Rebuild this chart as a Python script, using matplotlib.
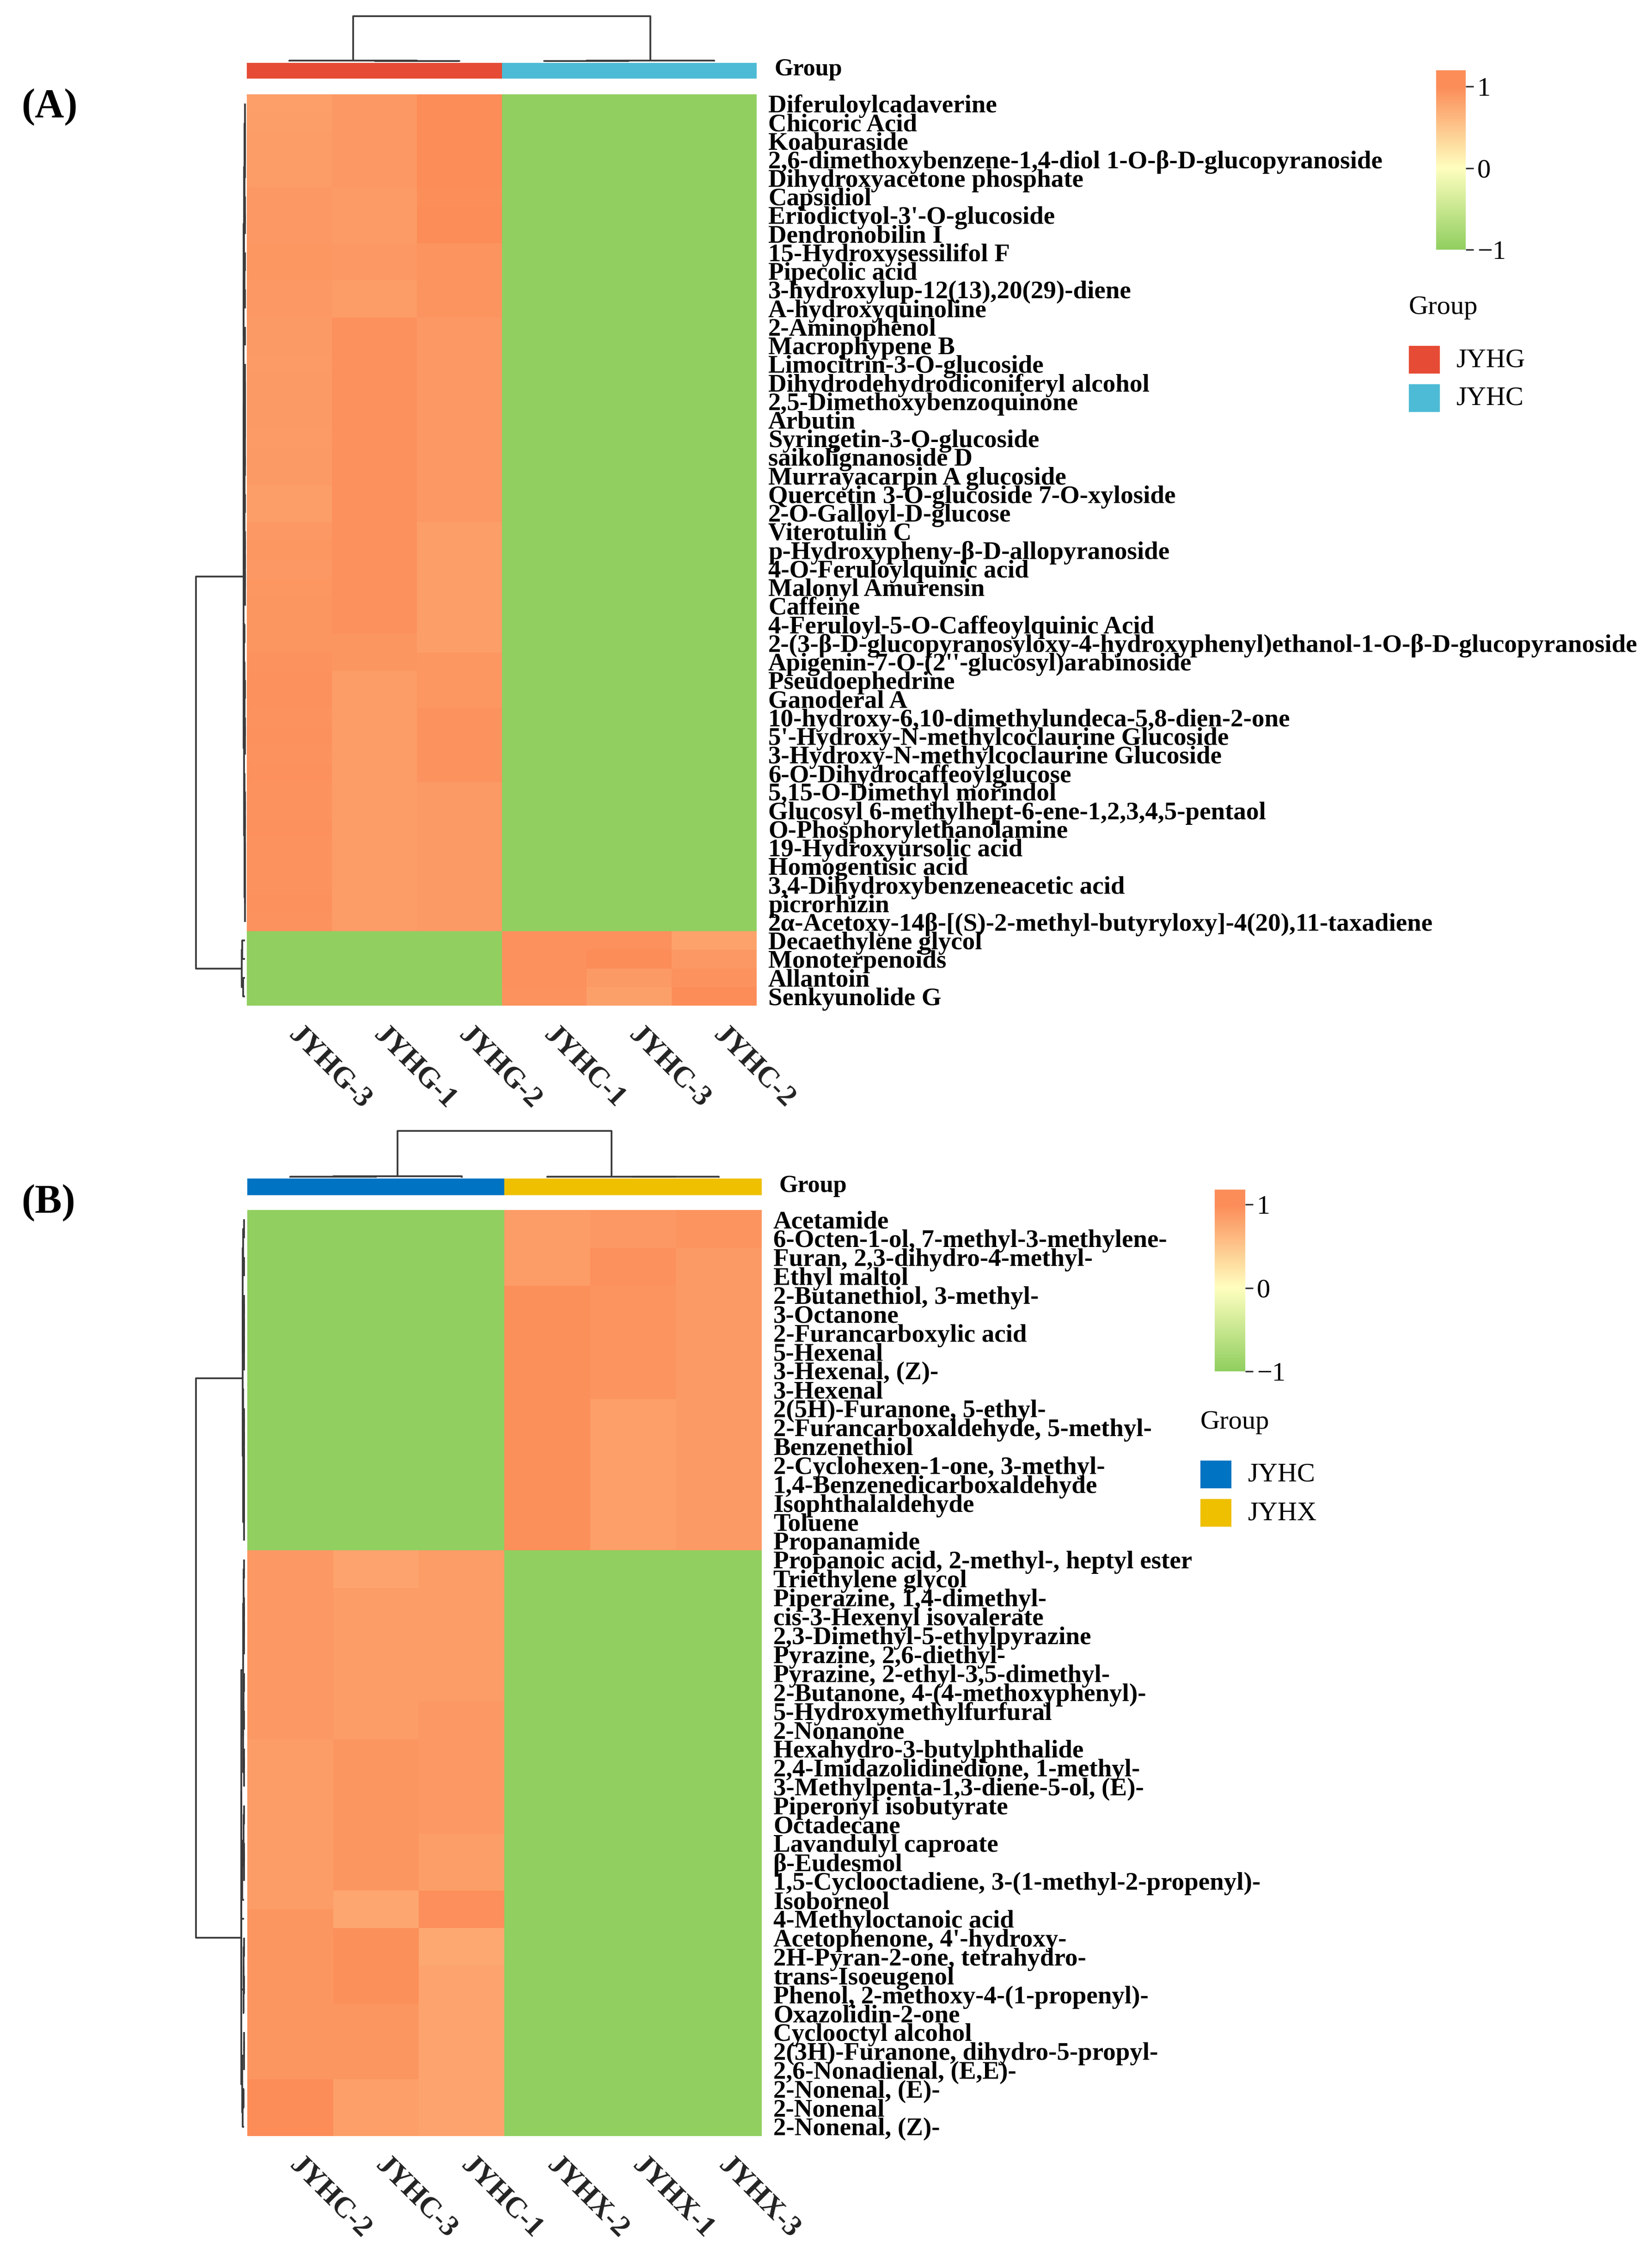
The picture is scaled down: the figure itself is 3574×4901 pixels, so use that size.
import numpy as np
import matplotlib
matplotlib.use("Agg")
import matplotlib.pyplot as plt
from matplotlib.colors import LinearSegmentedColormap, ListedColormap, Normalize
from matplotlib.patches import Rectangle
from matplotlib.transforms import ScaledTranslation

plt.rcParams['font.family'] = ['Liberation Serif', 'DejaVu Serif']

# ---------------- panel A data ----------------
cols_a = ['JYHG-3', 'JYHG-1', 'JYHG-2', 'JYHC-1', 'JYHC-3', 'JYHC-2']
rows_a = [
    'Diferuloylcadaverine', 'Chicoric Acid', 'Koaburaside',
    '2,6-dimethoxybenzene-1,4-diol 1-O-β-D-glucopyranoside',
    'Dihydroxyacetone phosphate', 'Capsidiol', "Eriodictyol-3'-O-glucoside",
    'Dendronobilin I', '15-Hydroxysessilifol F', 'Pipecolic acid',
    '3-hydroxylup-12(13),20(29)-diene', 'A-hydroxyquinoline', '2-Aminophenol',
    'Macrophypene B', 'Limocitrin-3-O-glucoside',
    'Dihydrodehydrodiconiferyl alcohol', '2,5-Dimethoxybenzoquinone', 'Arbutin',
    'Syringetin-3-O-glucoside', 'saikolignanoside D', 'Murrayacarpin A glucoside',
    'Quercetin 3-O-glucoside 7-O-xyloside', '2-O-Galloyl-D-glucose',
    'Viterotulin C', 'p-Hydroxypheny-β-D-allopyranoside',
    '4-O-Feruloylquinic acid', 'Malonyl Amurensin', 'Caffeine',
    '4-Feruloyl-5-O-Caffeoylquinic Acid',
    '2-(3-β-D-glucopyranosyloxy-4-hydroxyphenyl)ethanol-1-O-β-D-glucopyranoside',
    "Apigenin-7-O-(2''-glucosyl)arabinoside", 'Pseudoephedrine', 'Ganoderal A',
    '10-hydroxy-6,10-dimethylundeca-5,8-dien-2-one',
    "5'-Hydroxy-N-methylcoclaurine Glucoside",
    '3-Hydroxy-N-methylcoclaurine Glucoside', '6-O-Dihydrocaffeoylglucose',
    '5,15-O-Dimethyl morindol', 'Glucosyl 6-methylhept-6-ene-1,2,3,4,5-pentaol',
    'O-Phosphorylethanolamine', '19-Hydroxyursolic acid', 'Homogentisic acid',
    '3,4-Dihydroxybenzeneacetic acid', 'picrorhizin',
    '2α-Acetoxy-14β-[(S)-2-methyl-butyryloxy]-4(20),11-taxadiene',
    'Decaethylene glycol', 'Monoterpenoids', 'Allantoin', 'Senkyunolide G',
]
jyhg3_a = [0.84, 0.85, 0.86, 0.86, 0.86, 0.90, 0.90, 0.90, 0.91, 0.91,
           0.90, 0.90, 0.88, 0.88, 0.87, 0.88, 0.88, 0.88, 0.87, 0.88,
           0.88, 0.85, 0.85, 0.90, 0.91, 0.90, 0.91, 0.92, 0.92, 0.92,
           0.95, 0.96, 0.96, 0.95, 0.96, 0.95, 0.96, 0.95, 0.95, 0.96,
           0.95, 0.95, 0.95, 0.96, 0.95, -1.0, -1.0, -1.0, -1.0]
jyhg1_a = [0.90, 0.90, 0.90, 0.90, 0.90, 0.87, 0.87, 0.87, 0.90, 0.90,
           0.86, 0.86, 0.96, 0.96, 0.96, 0.96, 0.96, 0.96, 0.96, 0.96,
           0.96, 0.96, 0.96, 0.96, 0.96, 0.96, 0.96, 0.96, 0.96, 0.92,
           0.92, 0.86, 0.86, 0.86, 0.86, 0.86, 0.86, 0.86, 0.86, 0.86,
           0.86, 0.86, 0.86, 0.86, 0.86, -1.0, -1.0, -1.0, -1.0]
jyhg2_a = [1.00, 1.02, 1.00, 1.01, 1.00, 0.99, 1.00, 1.00, 0.93, 0.93,
           0.93, 0.93, 0.90, 0.90, 0.90, 0.90, 0.90, 0.90, 0.90, 0.90,
           0.90, 0.90, 0.90, 0.85, 0.85, 0.85, 0.85, 0.85, 0.85, 0.85,
           0.91, 0.91, 0.91, 0.94, 0.94, 0.94, 0.94, 0.88, 0.88, 0.88,
           0.88, 0.88, 0.88, 0.88, 0.88, -1.0, -1.0, -1.0, -1.0]
jyhc1_a = [-1.0, -1.0, -1.0, -1.0, -1.0, -1.0, -1.0, -1.0, -1.0, -1.0,
           -1.0, -1.0, -1.0, -1.0, -1.0, -1.0, -1.0, -1.0, -1.0, -1.0,
           -1.0, -1.0, -1.0, -1.0, -1.0, -1.0, -1.0, -1.0, -1.0, -1.0,
           -1.0, -1.0, -1.0, -1.0, -1.0, -1.0, -1.0, -1.0, -1.0, -1.0,
           -1.0, -1.0, -1.0, -1.0, -1.0, 0.96, 0.96, 0.96, 0.95]
jyhc3_a = [-1.0, -1.0, -1.0, -1.0, -1.0, -1.0, -1.0, -1.0, -1.0, -1.0,
           -1.0, -1.0, -1.0, -1.0, -1.0, -1.0, -1.0, -1.0, -1.0, -1.0,
           -1.0, -1.0, -1.0, -1.0, -1.0, -1.0, -1.0, -1.0, -1.0, -1.0,
           -1.0, -1.0, -1.0, -1.0, -1.0, -1.0, -1.0, -1.0, -1.0, -1.0,
           -1.0, -1.0, -1.0, -1.0, -1.0, 0.96, 1.20, 0.88, 0.83]
jyhc2_a = [-1.0, -1.0, -1.0, -1.0, -1.0, -1.0, -1.0, -1.0, -1.0, -1.0,
           -1.0, -1.0, -1.0, -1.0, -1.0, -1.0, -1.0, -1.0, -1.0, -1.0,
           -1.0, -1.0, -1.0, -1.0, -1.0, -1.0, -1.0, -1.0, -1.0, -1.0,
           -1.0, -1.0, -1.0, -1.0, -1.0, -1.0, -1.0, -1.0, -1.0, -1.0,
           -1.0, -1.0, -1.0, -1.0, -1.0, 0.82, 0.90, 0.95, 1.10]
# column tree: (left node, right node, height)
col_tree_a = [(1, 2, 0.06), (3, 4, 0.05), (0, 6, 0.10), (7, 5, 0.09), (8, 9, 4.6)]
# row branch points (first row of the lower branch), upper levels first
row_cuts_a = [45, 28, 14, 36, 47]
group_colors_a = {'JYHG': '#E64B35', 'JYHC': '#4DBBD5'}

# ---------------- panel B data ----------------
cols_b = ['JYHC-2', 'JYHC-3', 'JYHC-1', 'JYHX-2', 'JYHX-1', 'JYHX-3']
rows_b = [
    'Acetamide', '6-Octen-1-ol, 7-methyl-3-methylene-',
    'Furan, 2,3-dihydro-4-methyl-', 'Ethyl maltol', '2-Butanethiol, 3-methyl-',
    '3-Octanone', '2-Furancarboxylic acid', '5-Hexenal', '3-Hexenal, (Z)-',
    '3-Hexenal', '2(5H)-Furanone, 5-ethyl-', '2-Furancarboxaldehyde, 5-methyl-',
    'Benzenethiol', '2-Cyclohexen-1-one, 3-methyl-',
    '1,4-Benzenedicarboxaldehyde', 'Isophthalaldehyde', 'Toluene', 'Propanamide',
    'Propanoic acid, 2-methyl-, heptyl ester', 'Triethylene glycol',
    'Piperazine, 1,4-dimethyl-', 'cis-3-Hexenyl isovalerate',
    '2,3-Dimethyl-5-ethylpyrazine', 'Pyrazine, 2,6-diethyl-',
    'Pyrazine, 2-ethyl-3,5-dimethyl-', '2-Butanone, 4-(4-methoxyphenyl)-',
    '5-Hydroxymethylfurfural', '2-Nonanone', 'Hexahydro-3-butylphthalide',
    '2,4-Imidazolidinedione, 1-methyl-', '3-Methylpenta-1,3-diene-5-ol, (E)-',
    'Piperonyl isobutyrate', 'Octadecane', 'Lavandulyl caproate', 'β-Eudesmol',
    '1,5-Cyclooctadiene, 3-(1-methyl-2-propenyl)-', 'Isoborneol',
    '4-Methyloctanoic acid', "Acetophenone, 4'-hydroxy-",
    '2H-Pyran-2-one, tetrahydro-', 'trans-Isoeugenol',
    'Phenol, 2-methoxy-4-(1-propenyl)-', 'Oxazolidin-2-one', 'Cyclooctyl alcohol',
    '2(3H)-Furanone, dihydro-5-propyl-', '2,6-Nonadienal, (E,E)-',
    '2-Nonenal, (E)-', '2-Nonenal', '2-Nonenal, (Z)-',
]
jyhc2_b = [-1.0, -1.0, -1.0, -1.0, -1.0, -1.0, -1.0, -1.0, -1.0, -1.0,
           -1.0, -1.0, -1.0, -1.0, -1.0, -1.0, -1.0, -1.0, 0.90, 0.90,
           0.90, 0.90, 0.90, 0.90, 0.90, 0.90, 0.90, 0.90, 0.86, 0.86,
           0.86, 0.86, 0.86, 0.86, 0.86, 0.86, 0.86, 0.92, 0.92, 0.92,
           0.92, 0.92, 0.92, 0.92, 0.92, 0.92, 1.02, 1.05, 1.18]
jyhc3_b = [-1.0, -1.0, -1.0, -1.0, -1.0, -1.0, -1.0, -1.0, -1.0, -1.0,
           -1.0, -1.0, -1.0, -1.0, -1.0, -1.0, -1.0, -1.0, 0.80, 0.80,
           0.86, 0.86, 0.86, 0.86, 0.86, 0.86, 0.86, 0.86, 0.92, 0.92,
           0.92, 0.92, 0.92, 0.92, 0.92, 0.92, 0.78, 0.78, 0.97, 0.97,
           0.97, 0.97, 0.92, 0.92, 0.92, 0.92, 0.84, 0.84, 0.84]
jyhc1_b = [-1.0, -1.0, -1.0, -1.0, -1.0, -1.0, -1.0, -1.0, -1.0, -1.0,
           -1.0, -1.0, -1.0, -1.0, -1.0, -1.0, -1.0, -1.0, 0.86, 0.86,
           0.86, 0.86, 0.86, 0.86, 0.86, 0.86, 0.90, 0.90, 0.90, 0.90,
           0.90, 0.90, 0.90, 0.85, 0.85, 0.85, 0.98, 0.98, 0.76, 0.76,
           0.80, 0.80, 0.80, 0.80, 0.80, 0.80, 0.80, 0.80, 0.80]
jyhx2_b = [0.86, 0.86, 0.86, 0.86, 0.97, 0.97, 0.97, 0.97, 0.97, 0.97,
           0.97, 0.97, 0.97, 0.97, 0.97, 0.97, 0.97, 0.97, -1.0, -1.0,
           -1.0, -1.0, -1.0, -1.0, -1.0, -1.0, -1.0, -1.0, -1.0, -1.0,
           -1.0, -1.0, -1.0, -1.0, -1.0, -1.0, -1.0, -1.0, -1.0, -1.0,
           -1.0, -1.0, -1.0, -1.0, -1.0, -1.0, -1.0, -1.0, -1.0]
jyhx1_b = [0.90, 0.90, 0.96, 0.96, 0.93, 0.93, 0.93, 0.93, 0.93, 0.93,
           0.84, 0.84, 0.84, 0.84, 0.84, 0.84, 0.84, 0.84, -1.0, -1.0,
           -1.0, -1.0, -1.0, -1.0, -1.0, -1.0, -1.0, -1.0, -1.0, -1.0,
           -1.0, -1.0, -1.0, -1.0, -1.0, -1.0, -1.0, -1.0, -1.0, -1.0,
           -1.0, -1.0, -1.0, -1.0, -1.0, -1.0, -1.0, -1.0, -1.0]
jyhx3_b = [0.93, 0.93, 0.88, 0.88, 0.88, 0.88, 0.88, 0.88, 0.88, 0.88,
           0.88, 0.88, 0.88, 0.88, 0.88, 0.88, 0.88, 0.88, -1.0, -1.0,
           -1.0, -1.0, -1.0, -1.0, -1.0, -1.0, -1.0, -1.0, -1.0, -1.0,
           -1.0, -1.0, -1.0, -1.0, -1.0, -1.0, -1.0, -1.0, -1.0, -1.0,
           -1.0, -1.0, -1.0, -1.0, -1.0, -1.0, -1.0, -1.0, -1.0]
col_tree_b = [(0, 1, 0.08), (4, 5, 0.07), (6, 2, 0.12), (3, 7, 0.10), (8, 9, 4.6)]
row_cuts_b = [18, 43, 9, 31, 24, 37, 46]
group_colors_b = {'JYHC': '#0073C2', 'JYHX': '#EFC000'}

cbar_ticks = [-1, 0, 1]

# ---------------- helpers ----------------
W, H = 3574, 4901
fig = plt.figure(figsize=(W / 300, H / 300), dpi=300)
fig.patch.set_facecolor('white')

cmap = LinearSegmentedColormap.from_list('gyo', ['#91CF60', '#FFFFBF', '#FC8D59'])
norm = Normalize(-1, 1, clip=True)
LINE = '#3a3a3a'


def px_axes(x0, y0, x1, y1):
    return fig.add_axes([x0 / W, 1 - y1 / H, (x1 - x0) / W, (y1 - y0) / H])


def px_text(x, y, s, **kw):
    fig.text(x / W, 1 - y / H, s, **kw)


def ordered_tree(mat, cuts):
    # average linkage where only neighbouring clusters may join (keeps the
    # display order); the listed branch points are released last
    n = len(mat)
    clusters = [[i] for i in range(n)]
    ids = list(range(n))
    hts = {i: 0.0 for i in range(n)}
    blocked = list(cuts)
    merges = []
    nxt = n
    while len(clusters) > 1:
        best = None
        for k in range(len(clusters) - 1):
            if clusters[k + 1][0] in blocked:
                continue
            a = mat[clusters[k]]
            b = mat[clusters[k + 1]]
            d = np.sqrt(((a[:, None, :] - b[None, :, :]) ** 2).sum(-1)).mean()
            if best is None or d < best[0]:
                best = (d, k)
        if best is None:
            blocked.pop()
            continue
        d, k = best
        d = max(d, hts[ids[k]], hts[ids[k + 1]])
        merges.append((ids[k], ids[k + 1], d))
        hts[nxt] = d
        clusters[k] = clusters[k] + clusters[k + 1]
        del clusters[k + 1]
        ids[k] = nxt
        del ids[k + 1]
        nxt += 1
    return merges


def tree_segments(merges, n):
    pos = {i: i + 0.5 for i in range(n)}
    hgt = {i: 0.0 for i in range(n)}
    segs = []
    for k, (a, b, h) in enumerate(merges):
        segs.append(([pos[a], pos[a], pos[b], pos[b]], [hgt[a], h, h, hgt[b]]))
        pos[n + k] = (pos[a] + pos[b]) / 2
        hgt[n + k] = h
    return segs


def draw_panel(tag, cols, rows, data_cols, col_tree, row_cuts, group_colors, lay):
    mat = np.array(data_cols).T
    nr, nc = mat.shape
    hx0, hy0, hx1, hy1 = lay['heat']

    # heatmap
    ax = px_axes(hx0, hy0, hx1, hy1)
    ax.pcolormesh(np.arange(nc + 1), np.arange(nr + 1), mat, cmap=cmap, norm=norm,
                  edgecolors='none', antialiased=False)
    ax.set_xlim(0, nc)
    ax.set_ylim(nr, 0)
    for s in ax.spines.values():
        s.set_visible(False)
    ax.set_xticks(np.arange(nc) + 0.5)
    ax.set_yticks(np.arange(nr) + 0.5)
    ax.tick_params(axis='x', length=0, pad=8)
    ax.tick_params(axis='y', length=0, left=False, right=False,
                   labelleft=False, labelright=True, pad=6)
    ax.set_xticklabels(cols, fontsize=15, fontweight='bold', rotation=-45,
                       rotation_mode='anchor', ha='left', va='top', color='#222222')
    ax.set_yticklabels(rows, fontsize=13.2, fontweight='bold')
    shift = ScaledTranslation(28 / 300, 0, fig.dpi_scale_trans)
    for lbl in ax.get_xticklabels():
        lbl.set_transform(lbl.get_transform() + shift)

    # group annotation bar
    groups = [c.split('-')[0] for c in cols]
    names = list(group_colors)
    gax = px_axes(hx0, lay['bar'][0], hx1, lay['bar'][1])
    gax.pcolormesh(np.arange(nc + 1), [0, 1], [[names.index(g) for g in groups]],
                   cmap=ListedColormap([group_colors[g] for g in names]),
                   vmin=-0.5, vmax=len(names) - 0.5, edgecolors='none', antialiased=False)
    gax.set_xlim(0, nc)
    gax.axis('off')
    px_text(lay['group_lbl'][0], lay['group_lbl'][1], 'Group', fontsize=12.5,
            fontweight='bold', ha='left', va='center')

    # column dendrogram
    dax = px_axes(hx0, lay['cden'][0], hx1, lay['cden'][1])
    top = max(m[2] for m in col_tree)
    for xs, ys in tree_segments(col_tree, nc):
        dax.plot(xs, ys, color=LINE, lw=0.9, clip_on=False, solid_capstyle='butt')
    dax.set_xlim(0, nc)
    dax.set_ylim(0, top)
    dax.axis('off')

    # row dendrogram
    row_tree = ordered_tree(mat, row_cuts)
    rtop = max(m[2] for m in row_tree)
    rax = px_axes(lay['rden'][0], hy0, lay['rden'][1], hy1)
    for xs, ys in tree_segments(row_tree, nr):
        rax.plot(ys, xs, color=LINE, lw=0.9, clip_on=False, solid_capstyle='butt')
    rax.set_xlim(rtop, 0)
    rax.set_ylim(nr, 0)
    rax.axis('off')

    # colour key
    vmin, vmax = mat.min(), mat.max()
    cx0, cy0, cx1, cy1 = lay['cbar']
    cax = px_axes(cx0, cy0, cx1, cy1)
    grad = np.linspace(vmin, vmax, 400)[:, None]
    cax.imshow(grad, cmap=cmap, norm=norm, origin='lower', aspect='auto',
               extent=(0, 1, vmin, vmax))
    cax.set_xticks([])
    cax.yaxis.tick_right()
    cax.set_yticks(cbar_ticks)
    cax.set_yticklabels(['\u22121' if t < 0 else str(t) for t in cbar_ticks], fontsize=14)
    cax.tick_params(axis='y', length=4, width=0.8, color='#333333', pad=2)
    for s in cax.spines.values():
        s.set_visible(False)

    # group legend
    lx, ly = lay['legend']
    px_text(lx, ly, 'Group', fontsize=14, ha='left', va='center')
    for i, g in enumerate(names):
        y0 = ly + 83 + i * 83
        fig.add_artist(Rectangle((lx / W, 1 - (y0 + 60) / H), 67 / W, 60 / H,
                                 transform=fig.transFigure, facecolor=group_colors[g],
                                 edgecolor='none'))
        px_text(lx + 103, y0 + 31, g, fontsize=14, ha='left', va='center')

    px_text(lay['tag'][0], lay['tag'][1], tag, fontsize=21, fontweight='bold',
            ha='left', va='center')


draw_panel('(A)', cols_a, rows_a,
           [jyhg3_a, jyhg1_a, jyhg2_a, jyhc1_a, jyhc3_a, jyhc2_a],
           col_tree_a, row_cuts_a, group_colors_a,
           dict(heat=(534, 204, 1637, 2175), bar=(136, 170), cden=(35, 133),
                rden=(424, 530), group_lbl=(1676, 150), cbar=(3107, 152, 3171, 540),
                legend=(3048, 665), tag=(46, 232)))

draw_panel('(B)', cols_b, rows_b,
           [jyhc2_b, jyhc3_b, jyhc1_b, jyhx2_b, jyhx1_b, jyhx3_b],
           col_tree_b, row_cuts_b, group_colors_b,
           dict(heat=(535, 2617, 1648, 4620), bar=(2549, 2585), cden=(2446, 2547),
                rden=(424, 528), group_lbl=(1686, 2565), cbar=(2628, 2573, 2694, 2966),
                legend=(2597, 3076), tag=(46, 2602)))

fig.savefig('out.png', dpi=300, facecolor='white')
